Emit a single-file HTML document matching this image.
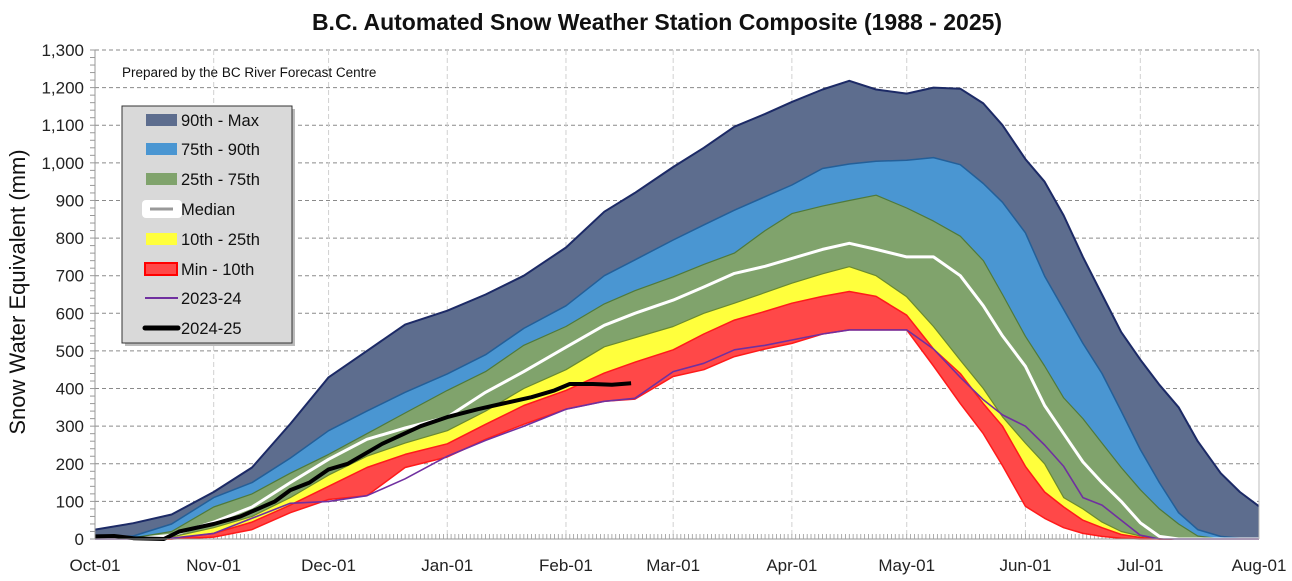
<!DOCTYPE html>
<html><head><meta charset="utf-8"><style>
body{margin:0;background:#fff;font-family:"Liberation Sans",Calibri,sans-serif}
#wrap{position:relative;width:1292px;height:581px;overflow:hidden}
</style></head><body>
<div id="wrap">
<svg id="chart" width="1292" height="581" xmlns="http://www.w3.org/2000/svg"></svg>
</div>
<script>
const days = [0,10,20,31,41,51,61,71,81,92,102,112,123,133,141,151,159,167,175,182,190,197,204,212,219,226,232,237,243,248,253,258,263,268,273,278,283,288,294,299,304];
const maxVals = [25,42,65,125,190,306,430,500,570,607,650,700,775,870,920,989,1040,1096,1130,1162,1195,1218,1195,1184,1200,1197,1158,1100,1010,950,860,750,650,550,477,410,350,260,175,125,87];
const p90Vals = [5,8,40,110,150,215,288,340,390,439,490,560,620,700,742,795,835,874,910,941,985,997,1004,1007,1014,995,945,895,814,699,610,520,440,340,238,150,70,25,7,2,0];
const p75Vals = [0,3,20,85,120,175,225,280,335,395,445,515,565,625,660,697,730,760,820,865,885,900,914,880,845,805,740,650,539,460,375,320,255,190,131,80,40,8,0,0,0];
const medVals = [0,0,10,45,85,150,212,265,295,324,390,445,510,568,600,635,670,706,725,746,770,786,770,750,750,700,620,540,459,355,280,205,150,100,43,7,0,0,0,0,0];
const p25Vals = [0,0,5,30,60,110,170,220,255,288,340,400,450,511,535,565,600,627,655,680,705,724,700,644,565,475,400,325,255,200,110,80,45,20,8,0,0,0,0,0,0];
const p10Vals = [0,0,0,15,45,90,140,190,225,253,305,355,395,441,470,503,545,582,605,627,645,658,645,595,505,440,360,300,193,125,85,50,30,12,4,0,0,0,0,0,0];
const minVals = [0,0,0,5,25,70,105,115,190,218,265,305,345,366,372,432,450,485,505,520,545,556,556,556,460,360,280,195,87,55,30,15,7,2,0,0,0,0,0,0,0];
const y2324Vals = [0,0,2,15,55,95,100,115,160,220,262,300,345,366,374,445,467,503,515,529,545,556,556,556,505,430,370,330,300,250,193,110,90,50,10,0,0,0,0,0,0];
const days2425 = [0,5,10,18,22,31,38,47,51,56,61,66,75,85,92,100,106,114,120,124,130,135,140];
const y2425Vals = [7,8,2,0,20,40,60,100,130,150,185,200,253,300,324,345,359,377,395,412,412,410,414];
const yTicks = [0,100,200,300,400,500,600,700,800,900,1000,1100,1200,1300];
const yTickLabels = ["0","100","200","300","400","500","600","700","800","900","1,000","1,100","1,200","1,300"];
const monthDays = [0,31,61,92,123,151,182,212,243,273,304];
const monthLabels = ["Oct-01","Nov-01","Dec-01","Jan-01","Feb-01","Mar-01","Apr-01","May-01","Jun-01","Jul-01","Aug-01"];

const NS="http://www.w3.org/2000/svg";
const svg=document.getElementById('chart');
const X0=95,X1=1259,Y0=539,Y1=50;
const xs=d=>X0+(d/304)*(X1-X0);
const ys=v=>Y0-(v/1300)*(Y0-Y1);
function mk(tag,attrs,parent){const e=document.createElementNS(NS,tag);for(const k in attrs)e.setAttribute(k,attrs[k]);(parent||svg).appendChild(e);return e;}

// gridlines
yTicks.forEach((v,i)=>{
  if(v>0){const g=mk('line',{x1:X0,x2:X1,y1:ys(v),y2:ys(v),stroke:'#8a8a8a','stroke-width':1,'stroke-dasharray':'4,3'});
  
  }
  const t=mk('text',{x:84,y:ys(v)+6,'text-anchor':'end','font-size':17,fill:'#222'});
  t.textContent=yTickLabels[i];
  
  
});
monthDays.forEach((d,i)=>{
  if(i>0){const g=mk('line',{x1:xs(d),x2:xs(d),y1:Y1,y2:Y0,stroke:'#d0d0d0','stroke-width':1,'stroke-dasharray':'5,3'});
  
  }
  const t=mk('text',{x:xs(d),y:571,'text-anchor':'middle','font-size':17,fill:'#222'});
  t.textContent=monthLabels[i];
  
  
});
// minor y ticks
for(let v=0;v<=1300;v+=20){mk('line',{x1:X0-5,x2:X0,y1:ys(v),y2:ys(v),stroke:'#999','stroke-width':1});}
// daily x ticks
for(let d=0;d<=304;d++){mk('line',{x1:xs(d),x2:xs(d),y1:Y0,y2:Y0-5,stroke:'#999','stroke-width':0.8});}

function pts(dd,vv){return dd.map((d,i)=>xs(d).toFixed(1)+','+ys(vv[i]).toFixed(1));}
function band(up,lo,fill,name){
  const p=pts(days,up).concat(pts(days,lo).reverse());
  const e=mk('polygon',{points:p.join(' '),fill:fill,stroke:'none'});
  
  
}
function line(dd,vv,color,w,name){
  const e=mk('polyline',{points:pts(dd,vv).join(' '),fill:'none',stroke:color,'stroke-width':w,'stroke-linejoin':'round'});
  
  
}
band(maxVals,p90Vals,'#5d6d8e','band-90th-max');
band(p90Vals,p75Vals,'#4a96d2','band-75th-90th');
band(p75Vals,p25Vals,'#80a36c','band-25th-75th');
band(p25Vals,p10Vals,'#ffff3c','band-10th-25th');
band(p10Vals,minVals,'#ff4848','band-min-10th');
line(days,maxVals,'#1c2a66',2,'max-line');
line(days,p90Vals,'#245f98',1.5,'p90-line');
line(days,p75Vals,'#4f7a3a',1.2,'p75-line');
line(days,p25Vals,'#6a8a30',1.2,'p25-line');
line(days,p10Vals,'#ff1a1a',1.5,'p10-line');
line(days,minVals,'#ff1a1a',1.5,'min-line');
line(days,medVals,'#ffffff',3,'median-line');
line(days,y2324Vals,'#7030a0',1.6,'series-2023-24');
line(days2425,y2425Vals,'#000000',4,'series-2024-25');

// axes
mk('line',{x1:X0,x2:X0,y1:Y1,y2:Y0,stroke:'#999','stroke-width':1});
mk('line',{x1:X0,x2:X1,y1:Y0,y2:Y0,stroke:'#999','stroke-width':1});
mk('line',{x1:X1,x2:X1,y1:Y1,y2:Y0,stroke:'#bbb','stroke-width':1});

// title etc
let t=mk('text',{x:657,y:30,'text-anchor':'middle','font-size':23,'font-weight':'bold',fill:'#111'});
t.textContent='B.C. Automated Snow Weather Station Composite (1988 - 2025)';


t=mk('text',{x:122,y:77,'font-size':13.5,fill:'#111'});
t.textContent='Prepared by the BC River Forecast Centre';


t=mk('text',{x:0,y:0,'text-anchor':'middle','font-size':22,fill:'#111',transform:'translate(25,292) rotate(-90)'});
t.textContent='Snow Water Equivalent (mm)';



// legend
const lg=mk('g',{});


mk('rect',{x:125,y:109,width:170,height:237,fill:'#bbb'},lg);
mk('rect',{x:122,y:106,width:170,height:237,fill:'#d9d9d9',stroke:'#333','stroke-width':1},lg);
const legLabels=['90th - Max','75th - 90th','25th - 75th','Median','10th - 25th','Min - 10th','2023-24','2024-25'];
const legY=[120,149,179,209,239,269,298,328];
legLabels.forEach((lab,i)=>{
  const y=legY[i];
  const g=mk('g',{},lg);
  
  
  if(i===0)mk('rect',{x:146,y:y-6,width:31,height:12,fill:'#5d6d8e'},g);
  if(i===1)mk('rect',{x:146,y:y-6,width:31,height:12,fill:'#4a96d2'},g);
  if(i===2)mk('rect',{x:146,y:y-6,width:31,height:12,fill:'#80a36c'},g);
  if(i===3){mk('rect',{x:142,y:y-9,width:40,height:18,rx:4,fill:'#fff'},g);mk('line',{x1:150,x2:173,y1:y,y2:y,stroke:'#999','stroke-width':3},g);}
  if(i===4)mk('rect',{x:146,y:y-6,width:31,height:12,fill:'#ffff3c'},g);
  if(i===5)mk('rect',{x:145,y:y-6,width:32,height:12,fill:'#ff4848',stroke:'#ff0000','stroke-width':2},g);
  if(i===6)mk('line',{x1:145,x2:178,y1:y,y2:y,stroke:'#7030a0','stroke-width':2},g);
  if(i===7)mk('line',{x1:145,x2:178,y1:y,y2:y,stroke:'#000','stroke-width':5,'stroke-linecap':'round'},g);
  const tx=mk('text',{x:181,y:y+6,'font-size':16.5,fill:'#111'},g);
  tx.textContent=lab;
});
</script>
</body></html>
